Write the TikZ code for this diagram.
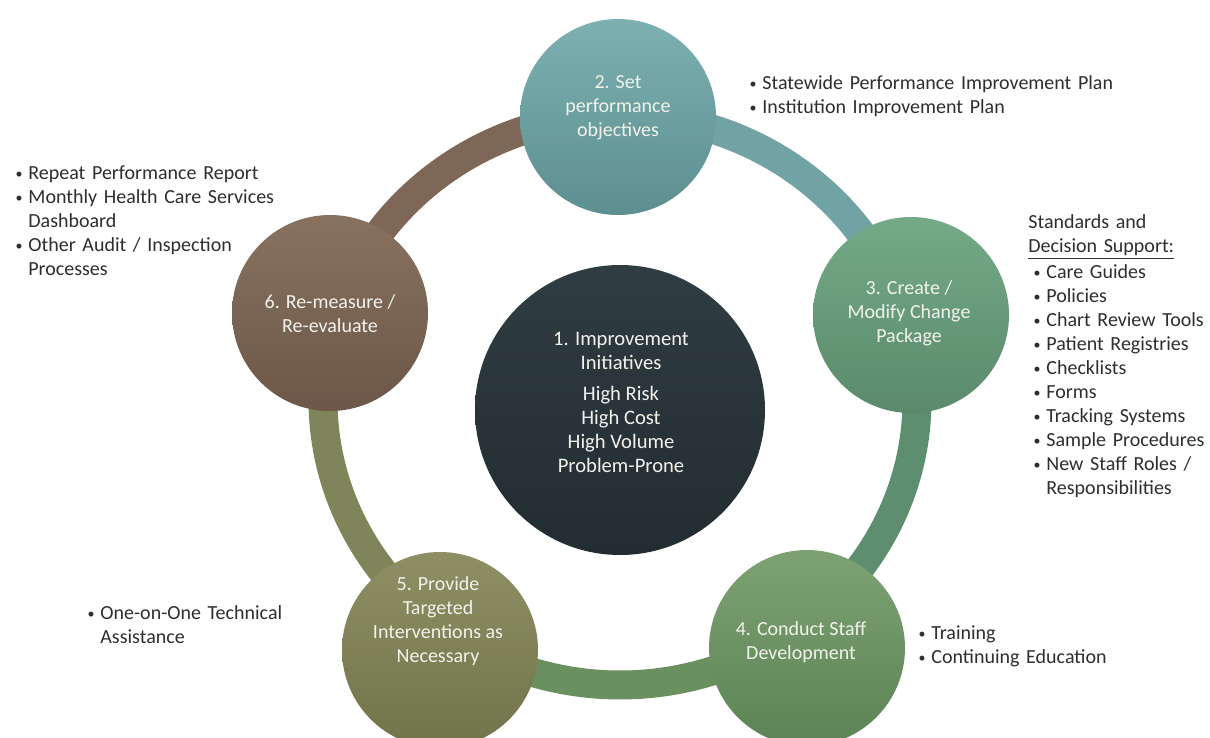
\documentclass[tikz,border=0pt]{standalone}
\usepackage{fontspec}
\setmainfont{Carlito}
\definecolor{notetext}{HTML}{2E2E2E}
\definecolor{stagetext}{HTML}{F2F2EC}
\definecolor{tealT}{HTML}{7DB0B0}\definecolor{tealB}{HTML}{5D8F90}
\definecolor{sageT}{HTML}{74AA88}\definecolor{sageB}{HTML}{5A8A6B}
\definecolor{leafT}{HTML}{7DA273}\definecolor{leafB}{HTML}{5C8355}
\definecolor{oliveT}{HTML}{8E8F64}\definecolor{oliveB}{HTML}{71734A}
\definecolor{umberT}{HTML}{88725F}\definecolor{umberB}{HTML}{6C5748}
\definecolor{slateT}{HTML}{2F3C41}\definecolor{slateB}{HTML}{222D31}
\definecolor{bandUmber}{HTML}{7E6756}
\definecolor{bandTeal}{HTML}{72A3A4}
\definecolor{bandSage}{HTML}{5E8E70}
\definecolor{bandLeaf}{HTML}{6A905F}
\definecolor{bandOlive}{HTML}{7F845A}
% bullet item with hanging indent; optional argument shifts the bullet right
\newcommand\bitem[2][0pt]{\par\hangindent=\dimexpr7pt+#1\relax\hangafter=1
  \noindent\hspace*{#1}\makebox[7pt][l]{\strut\hspace{0.6pt}\raisebox{0.6pt}{\fontsize{7}{7}\selectfont\textbullet}}#2\par}
\begin{document}
\begin{tikzpicture}[x=0.5pt,y=-0.5pt,
  stage/.style={circle, inner sep=0pt, minimum size=98pt},
  hub/.style={circle, inner sep=0pt, minimum size=145pt,
    top color=slateT, bottom color=slateB},
  caption/.style={align=center, inner sep=0pt, text=stagetext,
    font=\fontsize{10}{12}\selectfont},
  notes/.style={anchor=north west, inner sep=0pt, text width=200pt,
    text=notetext, font=\fontsize{10}{12}\selectfont\raggedright},
  band/.style={line width=14.5pt, line cap=butt},
  loop radii/.style={x radius=297, y radius=285}]
\useasboundingbox (0,0) rectangle (1210,738);
\fill[white] (0,0) rectangle (1210,738);

% elliptical ring joining the five stages
\coordinate (ring) at (620,400);
\path (ring) ++(197.6:297 and 285) coordinate (a6)
      (ring) ++(270:297 and 285)   coordinate (a2)
      (ring) ++(-17:297 and 285)   coordinate (a3)
      (ring) ++(54:297 and 285)    coordinate (a4)
      (ring) ++(124.6:297 and 285) coordinate (a5);
\draw[band, bandUmber] (a6) arc[start angle=197.6, end angle=270, loop radii];
\draw[band, bandTeal]  (a2) arc[start angle=270, end angle=343, loop radii];
\draw[band, bandSage]  (a3) arc[start angle=-17, end angle=54, loop radii];
\draw[band, bandLeaf]  (a4) arc[start angle=54, end angle=124.6, loop radii];
\draw[band, bandOlive] (a5) arc[start angle=124.6, end angle=197.6, loop radii];

% stage discs
\node[stage, top color=tealT,  bottom color=tealB]  (s2) at (618,117) {};
\node[stage, top color=sageT,  bottom color=sageB]  (s3) at (911,315) {};
\node[stage, top color=leafT,  bottom color=leafB]  (s4) at (807,648) {};
\node[stage, top color=oliveT, bottom color=oliveB] (s5) at (440,650) {};
\node[stage, top color=umberT, bottom color=umberB] (s6) at (330,313) {};
\node[hub] (s1) at (620,410) {};

% stage titles
\node[caption] (t2) at (618,108) {2. Set\\performance\\objectives};
\node[caption] (t3) at (909,313) {3. Create /\\Modify Change\\Package};
\node[caption] (t4) at (801,642) {4. Conduct Staff\\Development};
\node[caption] (t5) at (438,621) {5. Provide\\Targeted\\Interventions as\\Necessary};
\node[caption] (t6) at (330,314) {6. Re-measure /\\Re-evaluate};
\node[caption, font=\fontsize{10.3}{12}\selectfont] (t1) at (621,402)
  {1. Improvement\\Initiatives\\[3.5pt]High Risk\\High Cost\\High Volume\\Problem-Prone};

% notes beside the stages
\node[notes] (n2) at (748,65) {%
  \bitem{Statewide Performance Improvement Plan}
  \bitem{Institution Improvement Plan}};
\node[notes] (n3) at (1028,211) {\strut Standards and\newline
  \underline{Decision Support:}
  \bitem[2pt]{Care Guides}
  \bitem[2pt]{Policies}
  \bitem[2pt]{Chart Review Tools}
  \bitem[2pt]{Patient Registries}
  \bitem[2pt]{Checklists}
  \bitem[2pt]{Forms}
  \bitem[2pt]{Tracking Systems}
  \bitem[2pt]{Sample Procedures}
  \bitem[2pt]{New Staff Roles /\newline Responsibilities}};
\node[notes] (n4) at (917,615) {%
  \bitem{Training}
  \bitem{Continuing Education}};
\node[notes] (n5) at (86,595) {%
  \bitem{One-on-One Technical\newline Assistance}};
\node[notes] (n6) at (14,155) {%
  \bitem{Repeat Performance Report}
  \bitem{Monthly Health Care Services\newline Dashboard}
  \bitem{Other Audit / Inspection\newline Processes}};
\end{tikzpicture}
\end{document}
